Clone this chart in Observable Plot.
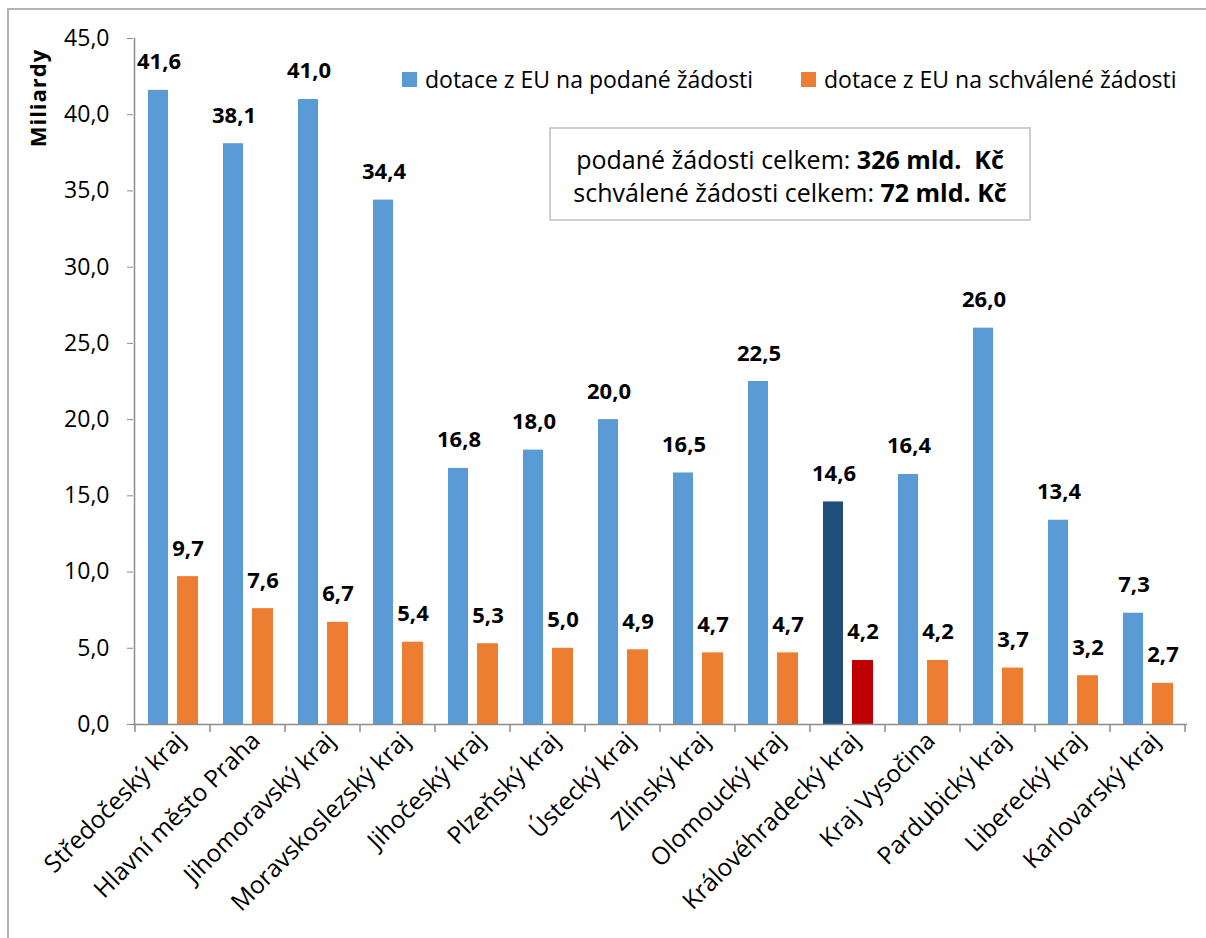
<!DOCTYPE html>
<html>
<head>
<meta charset="utf-8">
<script src="https://cdn.jsdelivr.net/npm/d3@7"></script>
<script src="https://cdn.jsdelivr.net/npm/@observablehq/plot@0.6"></script>
<style>
  html, body { margin: 0; padding: 0; background: #fff; }
  #wrap { position: relative; width: 1206px; height: 938px; overflow: hidden; background: #fff;
          font-family: "Open Sans", "Lato", sans-serif; color: #000; }
  #border { position: absolute; left: 7px; top: 8px; width: 1300px; height: 1000px;
            border: 2px solid #b3b3b3; box-sizing: border-box; }
  #chart { position: absolute; left: 0; top: 0; }
  #legend { position: absolute; left: 0; top: 0; font-size: 23px; white-space: nowrap; }
  .lg { position: absolute; display: flex; align-items: center; height: 30px; }
  .sw { width: 15px; height: 15px; display: inline-block; margin-right: 8px; }
  #box { position: absolute; left: 549px; top: 127px; width: 482px; height: 94px; box-sizing: border-box;
         border: 2px solid #cfcfcf; background: #fff; text-align: center; font-size: 25px; line-height: 33px;
         padding-top: 14px; white-space: nowrap; }
  #ylabel { position: absolute; left: 37px; top: 98px; transform: translate(-50%, -50%) rotate(-90deg);
            font-weight: bold; font-size: 22px; letter-spacing: 1px; white-space: nowrap; }
</style>
</head>
<body>
<div id="wrap">
  <div id="border"></div>
  <div id="chart"></div>
  <div id="legend"></div>
  <div id="box"></div>
  <div id="ylabel"></div>
</div>
<script>
// ---- data ----
const regions = ["Středočeský kraj","Hlavní město Praha","Jihomoravský kraj","Moravskoslezský kraj","Jihočeský kraj","Plzeňský kraj","Ústecký kraj","Zlínský kraj","Olomoucký kraj","Královéhradecký kraj","Kraj Vysočina","Pardubický kraj","Liberecký kraj","Karlovarský kraj"];
const podane = [41.6,38.1,41.0,34.4,16.8,18.0,20.0,16.5,22.5,14.6,16.4,26.0,13.4,7.3];
const schvalene = [9.7,7.6,6.7,5.4,5.3,5.0,4.9,4.7,4.7,4.2,4.2,3.7,3.2,2.7];
const seriesNames = ["dotace z EU na podané žádosti","dotace z EU na schválené žádosti"];
const highlightRegion = "Královéhradecký kraj";
const yTicks = [0,5,10,15,20,25,30,35,40,45];
const yLabel = "Miliardy";
const totalsLines = [["podané žádosti celkem: ", "326 mld.  Kč"], ["schválené žádosti celkem: ", "72 mld. Kč"]];

// ---- styles ----
const colBlue = "#5B9BD5", colOrange = "#ED7D31", colBlueHi = "#1F4E79", colOrangeHi = "#C00000";
const axisGray = "#8c8c8c";
const font = "'Open Sans', Lato, sans-serif";

const data = regions.map((r, i) => ({region: r, podane: podane[i], schvalene: schvalene[i]}));
const fmt = v => v.toFixed(1).replace(".", ",");

const W = 1206, H = 938, mL = 133, mR = 19, mT = 38, mB = 214;

const plot = Plot.plot({
  width: W, height: H,
  marginLeft: mL, marginRight: mR, marginTop: mT, marginBottom: mB,
  style: {fontFamily: font, background: "transparent", overflow: "visible"},
  x: {domain: regions, padding: 0, axis: null},
  y: {domain: [0, 45], axis: null},
  marks: [
    Plot.barY(data, {x: "region", y: "podane", fill: d => d.region === highlightRegion ? colBlueHi : colBlue, insetLeft: 13, insetRight: 42}),
    Plot.barY(data, {x: "region", y: "schvalene", fill: d => d.region === highlightRegion ? colOrangeHi : colOrange, insetLeft: 42, insetRight: 12}),
    Plot.text(data, {x: "region", y: "podane", text: d => fmt(d.podane), dx: -14, dy: -21, lineAnchor: "bottom", fontWeight: "bold", fontSize: 22, fill: "#000"}),
    Plot.text(data, {x: "region", y: "schvalene", text: d => fmt(d.schvalene), dx: 15, dy: -21, lineAnchor: "bottom", fontWeight: "bold", fontSize: 22, fill: "#000"}),
    Plot.ruleY([0], {stroke: axisGray, strokeWidth: 1.5}),
    Plot.axisY({ticks: yTicks, tickSize: 6, stroke: axisGray, tickFormat: () => "", label: null}),
    Plot.axisY({ticks: yTicks, tickSize: 0, tickPadding: 24, tickFormat: fmt, fontSize: 23, fill: "#000", label: null}),
    Plot.axisX({tickSize: 0, tickRotate: -45, tickPadding: 12, dx: 8, fontSize: 24.5, fill: "#000", label: null})
  ]
});
document.getElementById("chart").appendChild(plot);

// axis line and band-boundary ticks using Plot's x scale
const xs = plot.scale("x");
const svg = d3.select(plot);
const bw = xs.bandwidth;
const x0 = xs.apply(regions[0]);
const g = svg.append("g").attr("stroke", axisGray).attr("stroke-width", 1.5);
g.append("line").attr("x1", x0 - 0.5).attr("x2", x0 - 0.5).attr("y1", mT).attr("y2", H - mB);
regions.forEach(r => {
  const xx = xs.apply(r);
  g.append("line").attr("x1", xx).attr("x2", xx).attr("y1", H - mB).attr("y2", H - mB + 8);
});
const xe = xs.apply(regions[regions.length - 1]) + bw;
g.append("line").attr("x1", xe).attr("x2", xe).attr("y1", H - mB).attr("y2", H - mB + 8);

// legend
const legend = document.getElementById("legend");
[[seriesNames[0], colBlue, 402, 64], [seriesNames[1], colOrange, 801, 64]].forEach(([t, c, x, y]) => {
  const d = document.createElement("div");
  d.className = "lg";
  d.style.left = x + "px"; d.style.top = y + "px";
  d.innerHTML = `<span class="sw" style="background:${c}"></span><span>${t}</span>`;
  legend.appendChild(d);
});

// totals box
document.getElementById("box").innerHTML = totalsLines.map(([a, b]) => `<div>${a}<b>${b.replace(/ /g, "&nbsp;")}</b></div>`).join("");
document.getElementById("ylabel").textContent = yLabel;
</script>
</body>
</html>
